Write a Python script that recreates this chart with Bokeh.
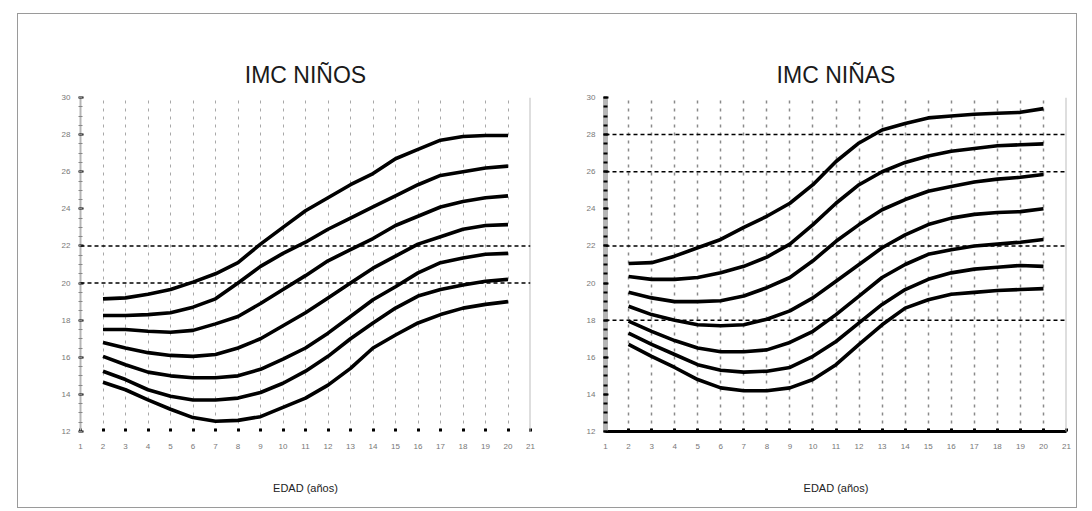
from bokeh.plotting import figure
from bokeh.models import Range1d, FixedTicker, Span, Row
from bokeh.embed import file_html
from bokeh.resources import INLINE

ages = list(range(2, 21))
x_ticks = list(range(1, 22))
y_ticks = list(range(12, 31, 2))
y_minor = [12 + 0.5 * i for i in range(37)]

# IMC NIÑOS (percentile curves, top to bottom)
boys_p97 = [19.15, 19.2, 19.4, 19.65, 20.05, 20.5, 21.1, 22.1, 23.0, 23.9, 24.6, 25.3, 25.9, 26.7, 27.2, 27.7, 27.9, 27.95, 27.95]
boys_p90 = [18.25, 18.25, 18.3, 18.4, 18.7, 19.15, 20.0, 20.9, 21.6, 22.2, 22.9, 23.5, 24.1, 24.7, 25.3, 25.8, 26.0, 26.2, 26.3]
boys_p75 = [17.5, 17.5, 17.4, 17.35, 17.45, 17.8, 18.2, 18.9, 19.65, 20.4, 21.2, 21.8, 22.4, 23.1, 23.6, 24.1, 24.4, 24.6, 24.7]
boys_p50 = [16.8, 16.5, 16.25, 16.1, 16.05, 16.15, 16.5, 17.0, 17.7, 18.4, 19.2, 20.0, 20.8, 21.45, 22.1, 22.5, 22.9, 23.1, 23.15]
boys_p25 = [16.05, 15.6, 15.2, 15.0, 14.9, 14.9, 15.0, 15.35, 15.9, 16.5, 17.3, 18.2, 19.1, 19.8, 20.55, 21.1, 21.35, 21.55, 21.6]
boys_p10 = [15.25, 14.8, 14.25, 13.9, 13.7, 13.7, 13.8, 14.1, 14.6, 15.25, 16.05, 17.0, 17.85, 18.65, 19.3, 19.65, 19.9, 20.1, 20.2]
boys_p3 = [14.65, 14.25, 13.7, 13.2, 12.75, 12.55, 12.6, 12.8, 13.3, 13.8, 14.5, 15.4, 16.5, 17.2, 17.85, 18.3, 18.65, 18.85, 19.0]
boys_refs = [20, 22]

# IMC NIÑAS
girls_p97 = [21.05, 21.1, 21.45, 21.9, 22.35, 23.0, 23.6, 24.3, 25.3, 26.55, 27.55, 28.25, 28.6, 28.9, 29.0, 29.1, 29.15, 29.2, 29.4]
girls_p90 = [20.35, 20.2, 20.2, 20.3, 20.55, 20.9, 21.4, 22.1, 23.15, 24.3, 25.3, 26.0, 26.5, 26.85, 27.1, 27.25, 27.4, 27.45, 27.5]
girls_p75 = [19.5, 19.2, 19.0, 19.0, 19.05, 19.3, 19.75, 20.3, 21.2, 22.25, 23.15, 23.95, 24.5, 24.95, 25.2, 25.45, 25.6, 25.7, 25.85]
girls_p50 = [18.75, 18.3, 18.0, 17.75, 17.7, 17.75, 18.05, 18.5, 19.2, 20.1, 21.0, 21.9, 22.6, 23.15, 23.5, 23.7, 23.8, 23.85, 24.0]
girls_p25 = [17.95, 17.4, 16.9, 16.5, 16.3, 16.3, 16.4, 16.8, 17.4, 18.3, 19.3, 20.3, 21.0, 21.55, 21.8, 22.0, 22.1, 22.2, 22.35]
girls_p10 = [17.3, 16.7, 16.15, 15.6, 15.3, 15.2, 15.25, 15.45, 16.05, 16.85, 17.85, 18.85, 19.65, 20.2, 20.55, 20.75, 20.85, 20.95, 20.9]
girls_p3 = [16.7, 16.05, 15.45, 14.8, 14.35, 14.2, 14.2, 14.35, 14.8, 15.6, 16.7, 17.75, 18.65, 19.1, 19.4, 19.5, 19.6, 19.65, 19.7]
girls_refs = [18, 22, 26, 28]


def make(title, series, refs, width, bl, br, heavy):
    p = figure(width=width, height=493, x_range=Range1d(1, 21), y_range=Range1d(12, 30),
               output_backend="svg", toolbar_location=None,
               min_border_left=bl, min_border_right=br, min_border_top=83, min_border_bottom=76,
               title=title, background_fill_color="white", border_fill_color="white")
    p.title.align = "center"
    p.title.text_font = "Liberation Sans"
    p.title.text_font_size = "23px"
    p.title.text_font_style = "normal"
    p.title.text_color = "#1a1a1a"
    p.title.standoff = 19
    p.outline_line_color = None

    p.xgrid.ticker = FixedTicker(ticks=x_ticks)
    p.xgrid.grid_line_color = "#8a8a8a" if heavy else "#a8a8a8"
    p.xgrid.grid_line_dash = "3 5"
    p.xgrid.grid_line_width = 1.5 if heavy else 1
    p.ygrid.grid_line_color = None

    p.xaxis.ticker = FixedTicker(ticks=x_ticks)
    p.yaxis.ticker = FixedTicker(ticks=y_ticks, minor_ticks=y_minor)
    for ax in (p.xaxis[0], p.yaxis[0]):
        ax.major_label_text_font = "Liberation Sans"
        ax.major_label_text_font_size = "8px"
        ax.major_label_text_color = "#777777"
        ax.major_tick_line_color = "black"
    p.xaxis.major_tick_in = 3
    p.xaxis.major_tick_out = 0
    p.xaxis.major_tick_line_width = 3
    p.xaxis.minor_tick_line_color = None
    p.xaxis.major_label_standoff = 12
    p.xaxis.axis_label = "EDAD (años)"
    p.xaxis.axis_label_text_font = "Liberation Sans"
    p.xaxis.axis_label_text_font_size = "11px"
    p.xaxis.axis_label_text_font_style = "normal"
    p.xaxis.axis_label_text_color = "#222222"
    p.xaxis.axis_label_standoff = 30
    if heavy:
        p.xaxis.axis_line_color = "black"
        p.xaxis.axis_line_width = 3
    else:
        p.xaxis.axis_line_color = None

    p.yaxis.axis_line_color = "#b5b5b5"
    p.yaxis.axis_line_width = 5 if heavy else 2
    p.yaxis.major_tick_in = 3
    p.yaxis.major_tick_out = 2
    p.yaxis.major_tick_line_width = 2
    p.yaxis.minor_tick_in = 2
    p.yaxis.minor_tick_out = 2
    p.yaxis.minor_tick_line_color = "black" if heavy else "#888888"
    p.yaxis.minor_tick_line_width = 2 if heavy else 1
    p.yaxis.major_label_standoff = 8

    p.add_layout(Span(location=21, dimension="height", line_color="#bdbdbd", line_width=2))
    for r in refs:
        p.add_layout(Span(location=r, dimension="width", line_color="black",
                          line_dash="4 3", line_width=1.5))
    for s in series:
        p.line(ages, s, line_color="black", line_width=3.6)
    return p


p1 = make("IMC NIÑOS", [boys_p97, boys_p90, boys_p75, boys_p50, boys_p25, boys_p10, boys_p3],
          boys_refs, 537, 62, 25, False)
p2 = make("IMC NIÑAS", [girls_p97, girls_p90, girls_p75, girls_p50, girls_p25, girls_p10, girls_p3],
          girls_refs, 521, 50, 10, True)

layout = Row(children=[p1, p2], margin=(13, 0, 0, 17),
             styles={"border": "1px solid #9a9a9a", "background-color": "white"})

open("out.html", "w").write(file_html(layout, INLINE))
